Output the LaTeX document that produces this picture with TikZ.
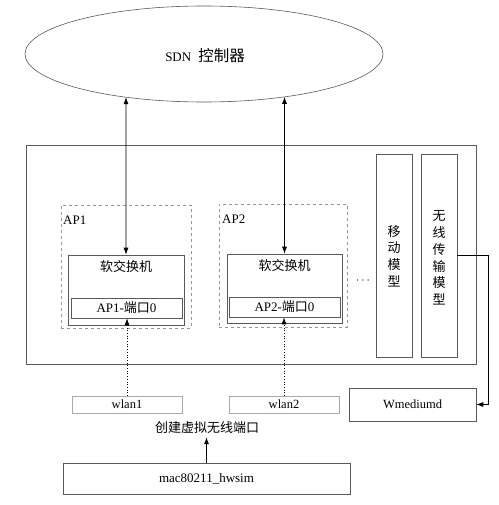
\documentclass[tikz,border=0pt]{standalone}
\usepackage{fontspec}
\setmainfont{Liberation Serif}
\newfontfamily\cjk{Noto Sans CJK SC}
\usetikzlibrary{shapes.geometric,arrows.meta,intersections}
\definecolor{boxgray}{RGB}{90,90,90}
\definecolor{lightline}{RGB}{170,170,170}
\definecolor{dashgray}{RGB}{150,150,150}
\tikzset{
  txt/.style={font=\fontsize{13}{16}\selectfont, inner sep=0pt},
  box/.style={draw=boxgray, line width=0.6pt, inner sep=0pt},
  apbox/.style={draw=dashgray, dashed, line width=0.6pt, inner sep=0pt},
  wbox/.style={draw=lightline, line width=0.6pt, inner sep=0pt, font=\fontsize{12.5}{15}\selectfont},
  tip/.style={-{Latex[length=7pt,width=5pt]}},
  dtip/.style={{Latex[length=7pt,width=5pt]}-{Latex[length=7pt,width=5pt]}},
}
\begin{document}
\begin{tikzpicture}[x=1pt,y=-1pt]
\useasboundingbox (0,0) rectangle (498,505);
% controller
\node[draw=boxgray, line width=0.6pt, ellipse, minimum width=358pt, minimum height=96pt, inner sep=0pt, name path=ell] (sdn) at (204,54) {};
\node[txt] (sdnlbl) at (205,56) {SDN\hspace{7pt}{\cjk\fontsize{15.5}{18}\selectfont 控制器}};
% outer box
\node[box, minimum width=450pt, minimum height=219pt] (outer) at (251,254.5) {};
% AP1
\node[apbox, minimum width=130pt, minimum height=123pt] (ap1) at (126,266.5) {};
\node[txt, anchor=west] (ap1lbl) at (63,220) {AP1};
\node[box, minimum width=116pt, minimum height=70pt] (sw1) at (126,290) {};
\node[txt] (sw1lbl) at (126,267) {\cjk 软交换机};
\node[box, minimum width=111pt, minimum height=20pt, txt] (p1) at (126.5,308) {AP1-{\cjk 端口}0};
% AP2
\node[apbox, minimum width=128pt, minimum height=123pt] (ap2) at (283,265.5) {};
\node[txt, anchor=west] (ap2lbl) at (222,219) {AP2};
\node[box, minimum width=115pt, minimum height=69pt] (sw2) at (284.5,288.5) {};
\node[txt] (sw2lbl) at (284.5,266) {\cjk 软交换机};
\node[box, minimum width=111pt, minimum height=20pt, txt] (p2) at (284.5,307) {AP2-{\cjk 端口}0};
% dots
\node[txt] (dots) at (363,281) {$\cdots$};
% models
\node[box, minimum width=36pt, minimum height=203pt] (mob) at (394,255.5) {};
\node[txt, align=center, font=\fontsize{13}{16.7}\selectfont\cjk] (moblbl) at (394,256) {移\\动\\模\\型};
\node[box, minimum width=36pt, minimum height=203pt] (wtm) at (439,255.5) {};
\node[txt, align=center, font=\fontsize{13}{16.7}\selectfont\cjk] (wtmlbl) at (439,258) {无\\线\\传\\输\\模\\型};
% wmediumd
\node[box, minimum width=127pt, minimum height=33pt, font=\fontsize{12.5}{15}\selectfont] (wmd) at (412.5,404.5) {Wmediumd};
% wlans
\node[wbox, minimum width=110pt, minimum height=17pt] (wlan1) at (127,404.5) {wlan1};
\node[wbox, minimum width=110pt, minimum height=17pt] (wlan2) at (284,404.5) {wlan2};
\node[txt] (create) at (207,428) {\cjk 创建虚拟无线端口};
% mac80211_hwsim
\node[box, minimum width=287pt, minimum height=31pt, txt] (mac) at (206.5,478.5) {mac80211\_hwsim};
% connectors
\path[name path=v1] (sw1.north) -- ++(0,-200);
\path[name path=v2] (sw2.north) -- ++(0,-200);
\path[name intersections={of=ell and v1, by=e1}];
\path[name intersections={of=ell and v2, by=e2}];
\draw[dtip, line width=0.7pt] (e1) -- (sw1.north);
\draw[dtip, line width=0.7pt] (e2) -- (sw2.north);
\draw[tip, dotted, line width=0.7pt] (wlan1.north) -- (wlan1.north |- p1.south);
\draw[tip, dotted, line width=0.7pt] (wlan2.north) -- (wlan2.north |- p2.south);
\draw[tip, line width=0.7pt] (wtm.east) -- ++(31,0) |- (wmd.east);
\draw[tip, line width=0.7pt] (mac.north) -- ([yshift=-3pt]mac.north |- create.south);
\end{tikzpicture}
\end{document}
